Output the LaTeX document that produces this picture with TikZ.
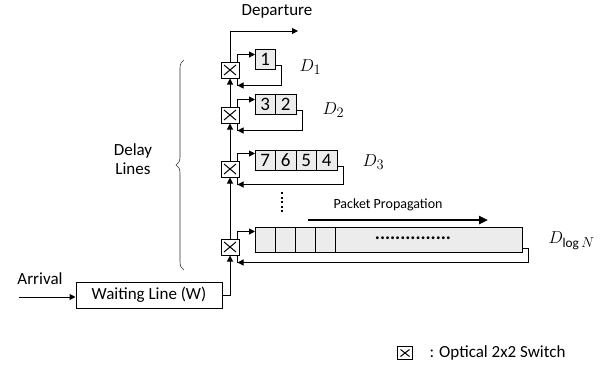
\documentclass[tikz,border=0pt]{standalone}
\usepackage{fontspec}
\setmainfont{Carlito}
\usetikzlibrary{arrows.meta,positioning,decorations.pathreplacing}

\begin{document}
\begin{tikzpicture}[x=1pt,y=-1pt,line width=1pt,>={Triangle[length=6pt,width=6pt]},
  lbl/.style={font=\fontsize{17}{18}\selectfont,inner sep=0pt},
  switchbox/.style={draw,fill=white,minimum width=18pt,minimum height=16pt,inner sep=0pt,
    path picture={\draw ([shift={(3pt,3pt)}]path picture bounding box.south west) -- ([shift={(-3pt,-3pt)}]path picture bounding box.north east)
      ([shift={(3pt,-3pt)}]path picture bounding box.north west) -- ([shift={(-3pt,3pt)}]path picture bounding box.south east);}},
  cell/.style={draw,fill=gray!15,minimum width=20.5pt,minimum height=20pt,inner sep=0pt,outer sep=0pt,font=\fontsize{19}{20}\selectfont},
  longcell/.style={cell,minimum width=20pt,minimum height=25pt},
  dlabel/.style={anchor=west,inner sep=0pt,font=\fontsize{19}{20}\selectfont}]
\useasboundingbox (0,0) rectangle (613,365);

% switches
\node[switchbox] (sw1) at (230,70) {};
\node[switchbox] (sw2) at (230,115) {};
\node[switchbox] (sw3) at (230,169) {};
\node[switchbox] (sw4) at (230,247) {};

% delay lines
\node[cell] (c11) at (265.25,59) {1};
\node[cell] (c23) at (265.25,104) {3};
\node[cell,right=0pt of c23] (c22) {2};
\node[cell] (c37) at (265.25,160) {7};
\node[cell,right=0pt of c37] (c36) {6};
\node[cell,right=0pt of c36] (c35) {5};
\node[cell,right=0pt of c35] (c34) {4};
\node[longcell] (c4a) at (265,239.5) {};
\node[longcell,right=0pt of c4a] (c4b) {};
\node[longcell,right=0pt of c4b] (c4c) {};
\node[longcell,right=0pt of c4c] (c4d) {};
\node[longcell,right=0pt of c4d,minimum width=187pt] (c4e) {};
\node[font=\fontsize{19}{20}\selectfont\bfseries,inner sep=0pt] (dots) at (413,238) {...............};

\node[dlabel] (d1) at (299,67) {$D_1$};
\node[dlabel] (d2) at (322,110) {$D_2$};
\node[dlabel] (d3) at (362,162) {$D_3$};
\node[dlabel] (d4) at (548,241) {$D_{\log N}$};

% loops
\foreach \s/\f/\l in {sw1/c11/c11,sw2/c23/c22,sw3/c37/c34,sw4/c4a/c4e}{
  \draw[->] ([xshift=-2pt]\s.north east) |- ([yshift=7pt]\s.north -| \f.west);
  \draw[->] ([yshift=4pt]\l.south east) -- ++(6,0) |- ([shift={(-2pt,-7pt)}]\s.south east);
  \draw ([xshift=-2pt]\s.south east) -- ++(0,7);
}
\draw[->] (sw4) -- (sw3);
\draw[->] (sw3) -- (sw2);
\draw[->] (sw2) -- (sw1);
\draw[line width=1.8pt,dash pattern=on 2pt off 2.5pt] (282,192) -- (282,214);

\node[lbl] (dep) at (277,11) {Departure};
\coordinate (depend) at (298,31);
\draw[->] (sw1) |- (depend);

\node[lbl,font=\fontsize{14}{16}\selectfont] (pp) at (388,205) {Packet Propagation};
\coordinate (pp-a) at (308,220);
\coordinate (pp-b) at (488,220);
\draw[-{Triangle[length=9pt,width=8pt]},line width=2.6pt] (pp-a) -- (pp-b);

% waiting line
\node[draw,lbl,minimum width=146pt,minimum height=26pt] (wl) at (149,295) {Waiting Line (W)};
\draw[->] (wl.east) -| (sw4);
\node[lbl] (arr) at (40,279) {Arrival};
\coordinate (arrstart) at (19,297);
\draw[->] (arrstart) -- (arrstart -| wl.west);

% brace
\draw[decorate,decoration={brace,amplitude=8pt},line width=.6pt,black!80] (184,270) -- (184,60);
\node[lbl,align=center] (dl) at (133,159) {Delay\\[1pt]Lines};

% legend
\node[switchbox,minimum width=15pt,minimum height=13pt] (legsw) at (405,353) {};
\node[lbl,anchor=west] (leg) at (429,353) {: Optical 2x2 Switch};
\end{tikzpicture}
\end{document}
